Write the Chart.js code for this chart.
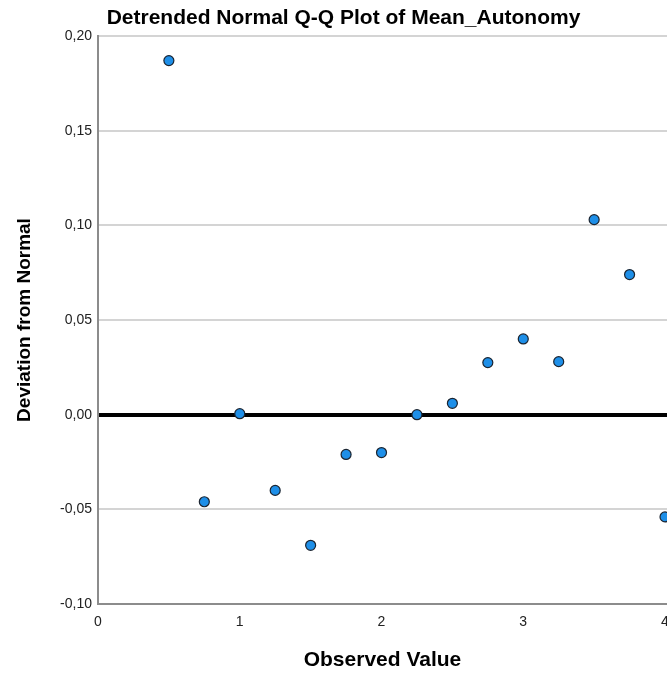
<!DOCTYPE html>
<html>
<head>
<meta charset="utf-8">
<title>Detrended Normal Q-Q Plot of Mean_Autonomy</title>
<script src="https://cdn.jsdelivr.net/npm/chart.js@4/dist/chart.umd.min.js"></script>
<style>
	html, body { margin: 0; padding: 0; background: #fff; overflow: hidden; }
	#wrap { width: 667px; height: 680px; }
	#qq { display: block; }
</style>
</head>
<body>
<div id="wrap"><canvas id="qq"></canvas></div>
<script>
var observed = [0.5, 0.75, 1.0, 1.25, 1.5, 1.75, 2.0, 2.25, 2.5, 2.75, 3.0, 3.25, 3.5, 3.75, 4.0];
var deviation = [0.187, -0.046, 0.0005, -0.040, -0.069, -0.021, -0.020, 0.000, 0.006, 0.0275, 0.040, 0.028, 0.103, 0.074, -0.054];

var xTicks = [0, 1, 2, 3, 4];
var yTicks = [-0.10, -0.05, 0.00, 0.05, 0.10, 0.15, 0.20];

var chartTitle = "Detrended Normal Q-Q Plot of Mean_Autonomy";

var points = [];
for (var i = 0; i < observed.length; i++) {
	points.push({x: observed[i], y: deviation[i]});
}

function commaFmt(v) {
	return (Math.round(v * 100) / 100).toFixed(2).replace('.', ',');
}

// SPSS puts the title a bit right of the canvas middle
var titlePlugin = {
	id: "spssTitle",
	afterDraw: function (c) {
		var g = c.ctx;
		g.save();
		g.font = "bold 21px 'Liberation Sans', Arial, sans-serif";
		g.fillStyle = "#000";
		g.textAlign = "center";
		g.textBaseline = "middle";
		g.fillText(chartTitle, c.width / 2 + 10, 18);
		g.restore();
	}
};

Chart.defaults.font.family = "'Liberation Sans', Arial, sans-serif";

var ctx = document.getElementById("qq").getContext("2d");
var chart = new Chart(ctx, {
	type: "scatter",
	data: {
		datasets: [{
			label: "Mean_Autonomy",
			data: points,
			backgroundColor: "#1e8fe8",
			borderColor: "#1b2430",
			borderWidth: 1.2,
			pointRadius: 5,
			pointHoverRadius: 5
		}]
	},
	plugins: [titlePlugin],
	options: {
		responsive: true,
		maintainAspectRatio: false,
		animation: false,
		layout: { padding: { top: 36, left: 0, right: 0, bottom: 0 }, autoPadding: false },
		plugins: {
			legend: { display: false },
			tooltip: { enabled: false },
			title: { display: false }
		},
		scales: {
			x: {
				type: "linear",
				min: 0,
				max: 4.014,
				afterBuildTicks: function (s) { s.ticks = xTicks.map(function (v) { return {value: v}; }); },
				afterFit: function (s) { s.height = 76; s.paddingLeft = 0; s.paddingRight = 0; },
				grid: { display: false, drawTicks: false },
				border: { display: true, color: "#8c8c8c", width: 2 },
				ticks: { color: "#222", font: { size: 14 }, padding: 10, maxRotation: 0 },
				title: {
					display: true,
					text: "Observed Value",
					color: "#000",
					font: { size: 21, weight: "bold" },
					padding: { top: 0, bottom: 7 }
				}
			},
			y: {
				type: "linear",
				min: -0.10,
				max: 0.20,
				afterBuildTicks: function (s) { s.ticks = yTicks.map(function (v) { return {value: v}; }); },
				afterFit: function (s) { s.width = 98; },
				grid: {
					drawTicks: false,
					color: function (c) { return (c.tick && Math.abs(c.tick.value) < 1e-9) ? "#000" : "#d4d4d4"; },
					lineWidth: function (c) { return (c.tick && Math.abs(c.tick.value) < 1e-9) ? 4 : 2; }
				},
				border: { display: true, color: "#8c8c8c", width: 2 },
				ticks: {
					color: "#222",
					font: { size: 14 },
					padding: 6,
					callback: function (v) { return commaFmt(v); }
				},
				title: {
					display: true,
					text: "Deviation from Normal",
					color: "#000",
					font: { size: 19, weight: "bold" },
					padding: { top: 13, bottom: 0 }
				}
			}
		}
	}
});
</script>
</body>
</html>
